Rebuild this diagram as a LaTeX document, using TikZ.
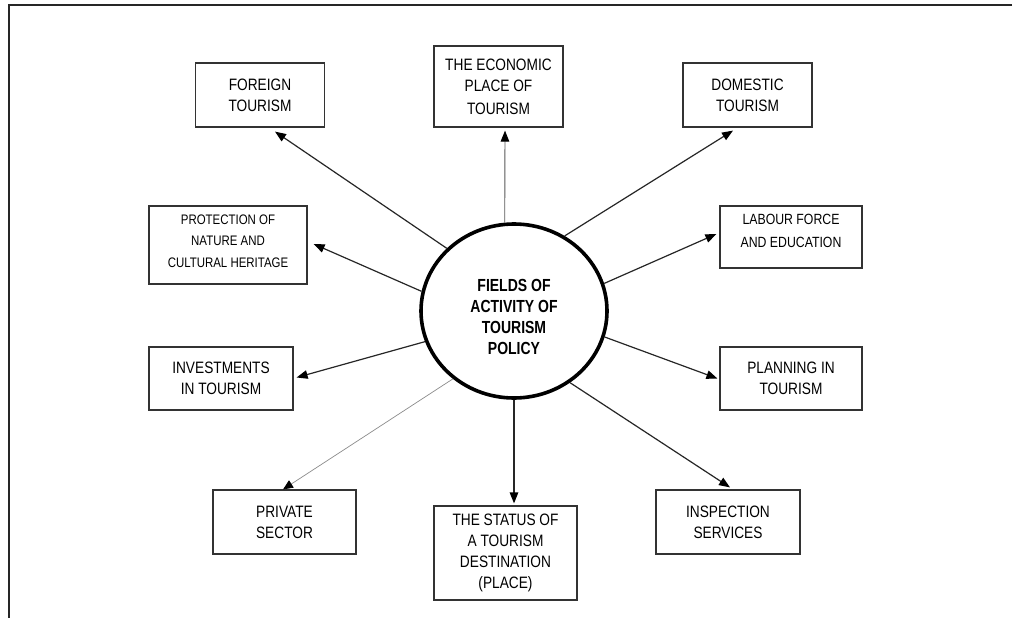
\documentclass[tikz,border=0pt]{standalone}
\usepackage{fontspec}
\setmainfont{Liberation Sans}
\newfontfamily\nf[FakeStretch=0.83]{Liberation Sans}
\newfontfamily\nfb[FakeStretch=0.8]{Liberation Sans}
\usetikzlibrary{arrows.meta,shapes.geometric}
\begin{document}
\begin{tikzpicture}[x=1pt,y=-1pt,
  box/.style={draw=black!80,line width=1.2pt,inner sep=0pt,align=center,
    font=\nf\fontsize{16.5}{21}\selectfont},
  txt/.style={inner sep=0pt,align=center},
  arr/.style={draw=black!85,line width=1.2pt,-{Triangle[length=11pt,width=8.5pt,color=black]}},
  thinarr/.style={draw=black!45,line width=0.7pt,-{Triangle[length=10pt,width=8.5pt,color=black]}},
  midarr/.style={draw=black!65,line width=0.9pt,-{Triangle[length=11pt,width=8.5pt,color=black]}}]
\fill[white] (0,0) rectangle (1014,618);
\useasboundingbox (0,0) rectangle (1014,618);
% frame
\coordinate (fa) at (9,5);
\coordinate (fb) at (1012,5);
\coordinate (fc) at (9,618);
\draw[line width=2.4pt,black!85] (fb) -- (fa) -- (fc);
% central ellipse
\node[ellipse,draw=black,line width=3.6pt,minimum width=186pt,minimum height=174pt,inner sep=0pt] (c) at (514,311) {};
\node[txt,font=\nfb\bfseries\fontsize{17.5}{20.8}\selectfont] (ctext) at (514,317) {FIELDS OF\\ACTIVITY OF\\TOURISM\\POLICY};
% boxes
\node[box,minimum width=129pt,minimum height=64pt] (foreign) at (260,95) {FOREIGN\\TOURISM};
\node[box,minimum width=129pt,minimum height=81pt] (economic) at (498.5,86.5) {THE ECONOMIC\\PLACE OF\\[2pt]TOURISM};
\node[box,minimum width=129pt,minimum height=64pt] (domestic) at (747.5,95) {DOMESTIC\\TOURISM};
\node[box,minimum width=158pt,minimum height=78pt] (protection) at (228,245) {};
\node[txt,font=\nf\fontsize{13.8}{21.5}\selectfont] (protectiontxt) at (228,241) {PROTECTION OF\\NATURE AND\\CULTURAL HERITAGE};
\node[box,minimum width=142pt,minimum height=62pt] (labour) at (791,237) {};
\node[txt,font=\nf\fontsize{14.8}{23}\selectfont] (labourtxt) at (791,231) {LABOUR FORCE\\AND EDUCATION};
\node[box,minimum width=144pt,minimum height=63pt] (investments) at (221,378.5) {INVESTMENTS\\IN TOURISM};
\node[box,minimum width=142pt,minimum height=63pt] (planning) at (791,378.5) {PLANNING IN\\TOURISM};
\node[box,minimum width=143pt,minimum height=64pt] (private) at (284.5,522) {PRIVATE\\SECTOR};
\node[box,minimum width=143pt,minimum height=94pt] (status) at (505.5,553) {THE STATUS OF\\A TOURISM\\DESTINATION\\(PLACE)};
\node[box,minimum width=144pt,minimum height=64pt] (inspection) at (728,522) {INSPECTION\\SERVICES};
% connectors
\draw[arr] (c.137.7) -- ([xshift=15pt,yshift=-4pt]foreign.south);
\draw[midarr] (c.96) -- ([xshift=6.5pt,yshift=-3pt]economic.south);
\draw[arr] (c.56) -- ([xshift=-14.5pt,yshift=-3pt]domestic.south);
\draw[arr] (c.168) -- ([xshift=6pt,yshift=1pt]protection.east);
\draw[arr] (c.17) -- ([xshift=-3pt,yshift=3pt]labour.west);
\draw[arr] (c.199) -- ([xshift=3pt,yshift=1pt]investments.east);
\draw[arr] (c.344) -- ([xshift=-2pt]planning.west);
\draw[thinarr] (c.228) -- ([xshift=-1.5pt]private.north);
\draw[arr] (c.270) -- ([xshift=8.5pt,yshift=2pt]status.north);
\draw[arr] (c.308) -- ([xshift=2pt,yshift=2pt]inspection.north);
\end{tikzpicture}
\end{document}
